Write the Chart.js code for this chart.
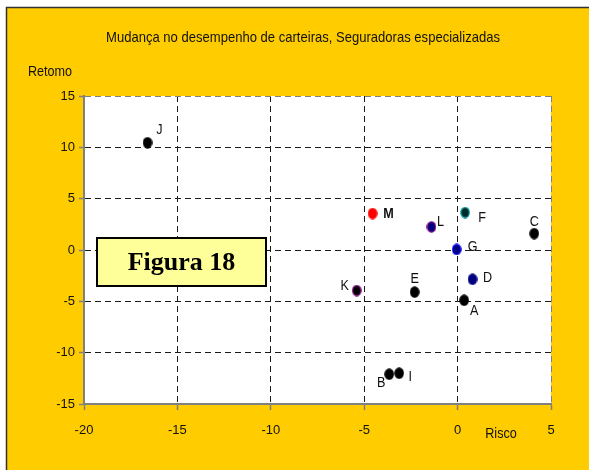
<!DOCTYPE html>
<html>
<head>
<meta charset="utf-8">
<script src="https://cdn.jsdelivr.net/npm/chart.js@4.4.1/dist/chart.umd.min.js"></script>
<style>
  html, body { margin: 0; padding: 0; background: #fff; }
  #wrap { width: 589px; height: 470px; }
</style>
</head>
<body>
<div id="wrap"><canvas id="c" width="589" height="470"></canvas></div>
<script>
// Seguradoras (letters), risco (x) and retorno (y)
const insurers = ['A', 'B', 'C', 'D', 'E', 'F', 'G', 'I', 'J', 'K', 'L', 'M'];
const risco    = [0.35, -3.66, 4.1, 0.8, -2.3, 0.4, -0.05, -3.13, -16.6, -5.4, -1.4, -4.55];
const retorno  = [-4.9, -12.1, 1.6, -2.85, -4.1, 3.65, 0.05, -12.0, 10.45, -3.95, 2.25, 3.55];

const xTicks = [-20, -15, -10, -5, 0, 5];
const yTicks = [-15, -10, -5, 0, 5, 10, 15];

const chartTitle = 'Mudança no desempenho de carteiras, Seguradoras especializadas';
const xTitle = 'Risco';
const yTitle = 'Retomo';
const figureLabel = 'Figura 18';

// marker colours per insurer: [fill, outline]
const markerColors = {
  A: ['#000', '#000'], B: ['#000', '#000'], C: ['#000', '#000'],
  D: ['#000080', '#000080'], E: ['#000', '#000'], F: ['#002b2b', '#009999'],
  G: ['#000080', '#0000ff'], I: ['#000', '#000'], J: ['#000', '#000'],
  K: ['#000', '#800080'], L: ['#000080', '#800080'], M: ['#ff0000', '#ff0000']
};
// label offsets (px) from each marker
const labelOffsets = {
  A: [10, 11], B: [-8, 9], C: [0, -12], D: [15, -1], E: [0, -13], F: [17, 5],
  G: [16, -2], I: [11, 4], J: [12, -13], K: [-12, -5], L: [9, -5], M: [16, 0]
};
const boldLabels = ['M'];

const SANS = '"Liberation Sans", Arial, sans-serif';

// narrow, tall sans text: draw a larger font squeezed horizontally
function narrowText(ctx, text, x, y, size, bold) {
  const sx = 0.87;
  ctx.save();
  ctx.translate(x, y);
  ctx.scale(sx, 1);
  ctx.font = (bold ? 'bold ' : '') + size + 'px ' + SANS;
  ctx.fillText(text, 0, 0);
  ctx.restore();
}

function ellipseMarker(fill, stroke) {
  const cv = document.createElement('canvas');
  cv.width = 10; cv.height = 12;
  const g = cv.getContext('2d');
  g.beginPath();
  g.ellipse(5, 6, 4.2, 5.2, 0, 0, Math.PI * 2);
  g.fillStyle = fill;
  g.fill();
  g.lineWidth = 1.2;
  g.strokeStyle = stroke;
  g.stroke();
  return cv;
}

const points = insurers.map((n, i) => ({ x: risco[i], y: retorno[i] }));
const markers = insurers.map(n => ellipseMarker(markerColors[n][0], markerColors[n][1]));

const backdrop = {
  id: 'backdrop',
  beforeDraw(chart) {
    const { ctx, chartArea: a, width, height } = chart;
    ctx.save();
    ctx.fillStyle = '#ffffff';
    ctx.fillRect(0, 0, width, height);
    ctx.fillStyle = '#ffcc00';
    ctx.fillRect(6, 8, width - 6, height - 8);
    ctx.strokeStyle = '#333333';
    ctx.lineWidth = 1.5;
    ctx.beginPath();
    ctx.moveTo(6.5, height);
    ctx.lineTo(6.5, 7.5);
    ctx.lineTo(width, 7.5);
    ctx.stroke();
    ctx.fillStyle = '#ffffff';
    ctx.fillRect(a.left, a.top, a.right - a.left, a.bottom - a.top);
    ctx.restore();
  }
};

const annotations = {
  id: 'annotations',
  afterDraw(chart) {
    const { ctx, chartArea: a } = chart;
    ctx.save();
    ctx.fillStyle = '#111';
    ctx.textBaseline = 'middle';
    ctx.textAlign = 'center';
    narrowText(ctx, chartTitle, 303, 38, 15);
    narrowText(ctx, yTitle, 50, 72, 14.5);
    narrowText(ctx, xTitle, 501, 434, 14.5);

    // figure caption box
    const bx = a.left + 13, by = a.top + 142, bw = 169, bh = 48;
    ctx.fillStyle = '#ffff99';
    ctx.fillRect(bx, by, bw, bh);
    ctx.lineWidth = 2;
    ctx.strokeStyle = '#000';
    ctx.strokeRect(bx, by, bw, bh);
    ctx.fillStyle = '#000';
    ctx.font = 'bold 26px "Liberation Serif", "Times New Roman", serif';
    ctx.fillText(figureLabel, bx + bw / 2, by + bh / 2 + 1);
    ctx.restore();
  }
};

const pointLabels = {
  id: 'pointLabels',
  afterDatasetsDraw(chart) {
    const { ctx } = chart;
    const meta = chart.getDatasetMeta(0);
    ctx.save();
    ctx.fillStyle = '#111';
    ctx.textAlign = 'center';
    ctx.textBaseline = 'middle';
    meta.data.forEach((el, i) => {
      const name = insurers[i];
      const off = labelOffsets[name];
      narrowText(ctx, name, el.x + off[0], el.y + off[1], 14.5, boldLabels.includes(name));
    });
    ctx.restore();
  }
};

function gridColor(edgeLow, edgeHigh) {
  return ctx => {
    const v = ctx.tick && ctx.tick.value;
    if (v === edgeLow) return 'rgba(0,0,0,0)';
    if (v === edgeHigh) return '#808080';
    return '#1a1a1a';
  };
}

new Chart(document.getElementById('c'), {
  type: 'scatter',
  data: {
    datasets: [{
      data: points,
      pointStyle: markers,
      pointRadius: 5,
      pointHoverRadius: 5
    }]
  },
  options: {
    responsive: false,
    animation: false,
    events: [],
    layout: { padding: { left: 0, top: 96, right: 38, bottom: 0 } },
    plugins: { legend: { display: false }, tooltip: { enabled: false }, title: { display: false } },
    scales: {
      x: {
        type: 'linear',
        min: xTicks[0],
        max: xTicks[xTicks.length - 1],
        afterBuildTicks: s => { s.ticks = xTicks.map(v => ({ value: v })); },
        afterFit: s => { s.height = 66; },
        border: { display: true, color: '#808080', width: 2, dash: [6, 4] },
        grid: {
          color: gridColor(xTicks[0], xTicks[xTicks.length - 1]),
          lineWidth: 1,
          tickColor: '#808080',
          tickLength: 6,
          tickWidth: 1.5
        },
        ticks: {
          color: '#111',
          font: { family: SANS, size: 13 },
          padding: 13,
          maxRotation: 0,
          callback: v => String(v)
        }
      },
      y: {
        type: 'linear',
        min: yTicks[0],
        max: yTicks[yTicks.length - 1],
        afterBuildTicks: s => { s.ticks = yTicks.map(v => ({ value: v })); },
        afterFit: s => { s.width = 84; },
        border: { display: true, color: '#808080', width: 2, dash: [6, 4] },
        grid: {
          color: gridColor(yTicks[0], yTicks[yTicks.length - 1]),
          lineWidth: 1,
          tickColor: '#808080',
          tickLength: 5,
          tickWidth: 1.5
        },
        ticks: {
          color: '#111',
          font: { family: SANS, size: 13 },
          padding: 4,
          callback: v => String(v)
        }
      }
    }
  },
  plugins: [backdrop, annotations, pointLabels]
});
</script>
</body>
</html>
